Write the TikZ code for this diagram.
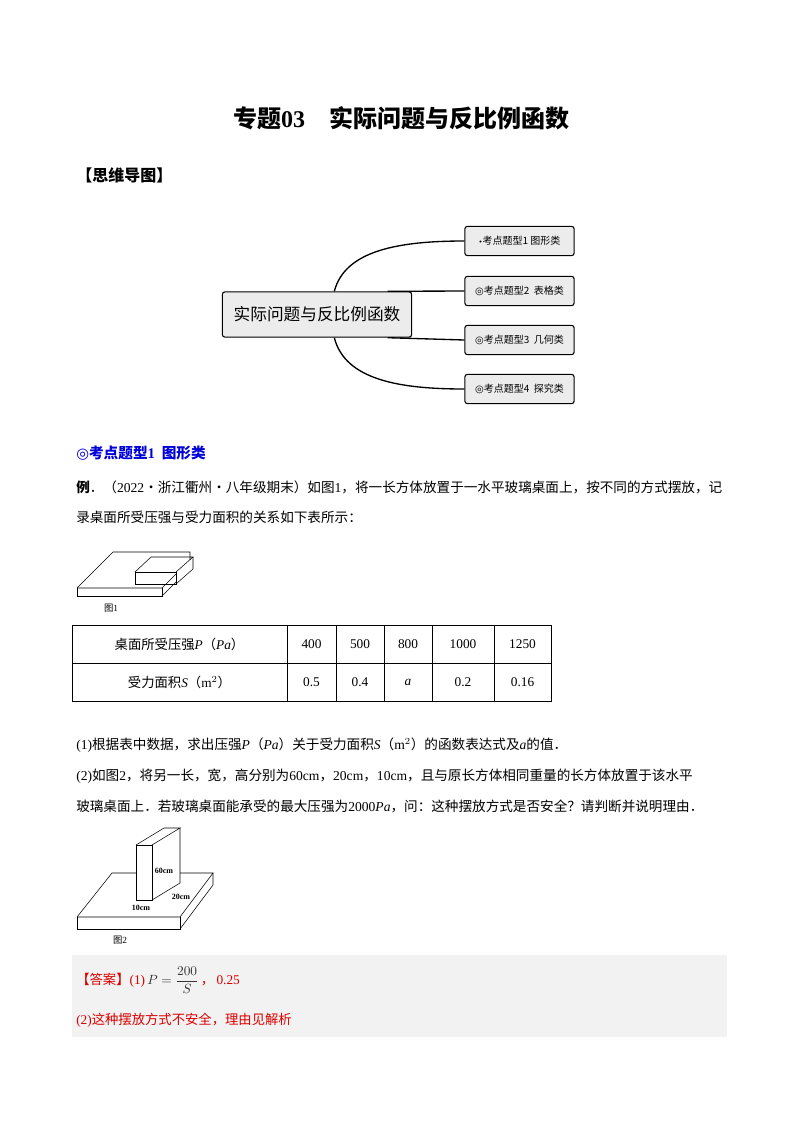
\documentclass[tikz,border=0pt]{standalone}
\usepackage{fontspec}
\setmainfont{Liberation Serif}
\newfontfamily\cjk{Noto Sans CJK SC}
\newfontfamily\dv{DejaVu Sans}
\begin{document}
\begin{tikzpicture}[x=0.75pt,y=-0.75pt,
  txt/.style={anchor=west,inner sep=0,font=\fontsize{10.5pt}{12pt}\selectfont},
  mbox/.style={draw,thick,rounded corners=2pt,fill=gray!15,minimum width=82pt,minimum height=22pt,font=\cjk\fontsize{7.5pt}{8pt}\selectfont},
  br/.style={line width=1pt},
  ln/.style={line width=0.4pt}]
\useasboundingbox (0,0) rectangle (800,1132);
\node[font=\cjk\bfseries\fontsize{18pt}{20pt}\selectfont] (title) at (401,118) {专题{\rmfamily\bfseries 03}\quad 实际问题与反比例函数};
\node[txt,font=\cjk\bfseries\fontsize{12pt}{14pt}\selectfont] (mm) at (76,175) {【思维导图】};
% mind map
\node[draw,thick,rounded corners=2pt,fill=gray!15,minimum width=142pt,minimum height=34pt,font=\cjk\fontsize{12.5pt}{14pt}\selectfont] (c) at (317,314.5) {实际问题与反比例函数};
\node[mbox] (b1) at (519.5,241) {{\dv\tiny•}考点题型1 图形类};
\node[mbox] (b2) at (519.5,291) {{\dv◎}考点题型2\ \ 表格类};
\node[mbox] (b3) at (519.5,340) {{\dv◎}考点题型3\ \ 几何类};
\node[mbox] (b4) at (519.5,389) {{\dv◎}考点题型4\ \ 探究类};
\draw[br] ([xshift=13pt]c.north) .. controls (345,250) and (400,241) .. (b1.west);
\draw[br] ([xshift=53pt]c.north) -- (b2.west);
\draw[br] ([xshift=53pt]c.south) -- (b3.west);
\draw[br] ([xshift=13pt]c.south) .. controls (345,380) and (400,389) .. (b4.west);
% section heading
\node[txt,text=blue!85!black,font=\cjk\bfseries\fontsize{11pt}{13pt}\selectfont] (sec) at (76,453) {{\dv◎}考点题型{\rmfamily\bfseries 1}\ \ 图形类};
\node[txt,font=\cjk\fontsize{10.2pt}{12pt}\selectfont] (ex1) at (76,487) {{\bfseries 例}．（{\rmfamily 2022}·浙江衢州·八年级期末）如图{\rmfamily 1}，将一长方体放置于一水平玻璃桌面上，按不同的方式摆放，记};
\node[txt,font=\cjk\fontsize{10.2pt}{12pt}\selectfont] (ex2) at (76,517) {录桌面所受压强与受力面积的关系如下表所示：};
% figure 1
\draw[ln] (77,588) -- (113,552) -- (190,552) -- (190,560);
\draw[ln] (77,588) -- (162,588) -- (176,574);
\draw[ln] (77,588) -- (77,596) -- (162,596) -- (162,588);
\draw[ln] (162,596) -- (176,582);
\draw[ln] (135,572) rectangle (176,584);
\draw[ln] (135,572) -- (151,557) -- (193,557) -- (176,572);
\draw[ln] (193,557) -- (193,569) -- (176,584);
\node[font=\cjk\fontsize{7pt}{8pt}\selectfont] (f1) at (111,608) {图{\rmfamily 1}};
% table
\draw[ln] (72,625) rectangle (551,701);
\draw[ln] (72,663) -- (551,663);
\foreach \x in {287,336,384,432,494} \draw[ln] (\x,625) -- (\x,701);
\node[font=\cjk\fontsize{10pt}{12pt}\selectfont] (t1) at (179.5,644) {桌面所受压强{\rmfamily\itshape P}（{\rmfamily\itshape Pa}）};
\node[font=\cjk\fontsize{10pt}{12pt}\selectfont] (t2) at (179.5,682) {受力面积{\rmfamily\itshape S}（{\rmfamily m$^2$}）};
\node (a1) at (311.5,644) {400};\node (a2) at (360,644) {500};\node (a3) at (408,644) {800};\node (a4) at (463,644) {1000};\node (a5) at (522.5,644) {1250};
\node (c1) at (311.5,682) {0.5};\node (c2) at (360,682) {0.4};\node (c3) at (408,682) {\itshape a};\node (c4) at (463,682) {0.2};\node (c5) at (522.5,682) {0.16};
% questions
\node[txt,font=\cjk\fontsize{10.2pt}{12pt}\selectfont] (q1) at (76,745) {{\rmfamily (1)}根据表中数据，求出压强{\rmfamily\itshape P}（{\rmfamily\itshape Pa}）关于受力面积{\rmfamily\itshape S}（{\rmfamily m$^2$}）的函数表达式及{\rmfamily\itshape a}的值．};
\node[txt,font=\cjk\fontsize{10.2pt}{12pt}\selectfont] (q2) at (76,776) {{\rmfamily (2)}如图{\rmfamily 2}，将另一长，宽，高分别为{\rmfamily 60cm}，{\rmfamily 20cm}，{\rmfamily 10cm}，且与原长方体相同重量的长方体放置于该水平};
\node[txt,font=\cjk\fontsize{10.2pt}{12pt}\selectfont] (q3) at (76,806) {玻璃桌面上．若玻璃桌面能承受的最大压强为{\rmfamily 2000\itshape Pa}，问：这种摆放方式是否安全？请判断并说明理由．};
% figure 2
\draw[ln] (77,917) -- (112,873) -- (136,873);
\draw[ln] (180,873) -- (213,873) -- (180,917) -- (77,917);
\draw[ln] (77,917) -- (77,929) -- (180,929) -- (180,917);
\draw[ln] (180,929) -- (213,885) -- (213,873);
\draw[ln] (136,845) rectangle (152,900);
\draw[ln] (136,845) -- (164,828) -- (180,828) -- (152,845);
\draw[ln] (180,828) -- (180,883) -- (152,900);
\node[font=\fontsize{6pt}{7pt}\selectfont\bfseries] (l60) at (164,871) {60cm};
\node[font=\fontsize{6pt}{7pt}\selectfont\bfseries] (l20) at (181,897) {20cm};
\node[font=\fontsize{6pt}{7pt}\selectfont\bfseries] (l10) at (141,908) {10cm};
\node[font=\cjk\fontsize{7pt}{8pt}\selectfont] (f2) at (120,940) {图{\rmfamily 2}};
% answer
\fill[gray!10] (72,955) rectangle (727,1037);
\node[txt,text=red!85!black,font=\cjk\fontsize{10pt}{12pt}\selectfont] (ans) at (76,980) {【答案】{\rmfamily (1)}\,{\rmfamily\color{black!80}$P=\displaystyle\frac{200}{S}$}\,，\,{\rmfamily 0.25}};
\node[txt,text=red!85!black,font=\cjk\fontsize{10pt}{12pt}\selectfont] (ans2) at (76,1020) {{\rmfamily (2)}这种摆放方式不安全，理由见解析};
\end{tikzpicture}
\end{document}
